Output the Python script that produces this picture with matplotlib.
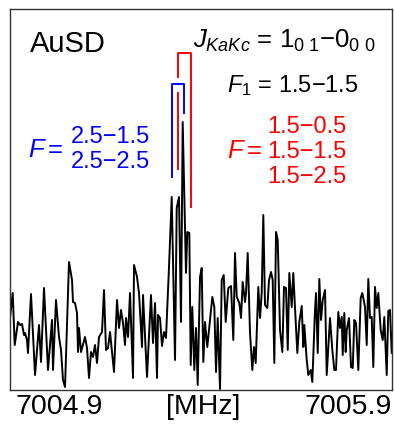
import matplotlib
matplotlib.use('Agg')
import matplotlib.pyplot as plt

plt.rcParams['font.family'] = ['Liberation Sans', 'DejaVu Sans']
plt.rcParams['mathtext.fontset'] = 'custom'
plt.rcParams['mathtext.rm'] = 'Liberation Sans'
plt.rcParams['mathtext.it'] = 'Liberation Sans:italic'

# spectrum (frequency in MHz, intensity in arb. units)
freq = [7004.7270, 7004.7398, 7004.7467, 7004.7581, 7004.7651, 7004.7720, 7004.7789, 7004.7824,
        7004.7893, 7004.7927, 7004.8031, 7004.8170, 7004.8308, 7004.8377, 7004.8481, 7004.8619,
        7004.8758, 7004.8792, 7004.8896, 7004.9000, 7004.9069, 7004.9138, 7004.9208, 7004.9346,
        7004.9450, 7004.9484, 7004.9554, 7004.9623, 7004.9657, 7004.9692, 7004.9761, 7004.9900,
        7004.9969, 7005.0038, 7005.0107, 7005.0176, 7005.0246, 7005.0315, 7005.0384, 7005.0488,
        7005.0557, 7005.0626, 7005.0696, 7005.0765, 7005.0903, 7005.1007, 7005.1076, 7005.1145,
        7005.1215, 7005.1284, 7005.1318, 7005.1388, 7005.1457, 7005.1561, 7005.1595, 7005.1699,
        7005.1768, 7005.1872, 7005.1907, 7005.2045, 7005.2183, 7005.2253, 7005.2322, 7005.2391,
        7005.2426, 7005.2495, 7005.2564, 7005.2633, 7005.2702, 7005.2806, 7005.2900, 7005.3014,
        7005.3073, 7005.3152, 7005.3221, 7005.3280, 7005.3394, 7005.3439, 7005.3509, 7005.3557,
        7005.3612, 7005.3682, 7005.3740, 7005.3799, 7005.3879, 7005.3938, 7005.3993, 7005.4052,
        7005.4131, 7005.4225, 7005.4305, 7005.4374, 7005.4433, 7005.4491, 7005.4571, 7005.4630,
        7005.4699, 7005.4768, 7005.4858, 7005.4952, 7005.5031, 7005.5090, 7005.5149, 7005.5239,
        7005.5298, 7005.5356, 7005.5436, 7005.5471, 7005.5529, 7005.5609, 7005.5689, 7005.5747,
        7005.5806, 7005.5896, 7005.5955, 7005.6014, 7005.6069, 7005.6128, 7005.6208, 7005.6266,
        7005.6336, 7005.6394, 7005.6450, 7005.6509, 7005.6568, 7005.6647, 7005.6727, 7005.6785,
        7005.6855, 7005.6914, 7005.6969, 7005.7052, 7005.7107, 7005.7166, 7005.7246, 7005.7315,
        7005.7398, 7005.7453, 7005.7488, 7005.7571, 7005.7626, 7005.7709, 7005.7765, 7005.7858,
        7005.7893, 7005.7952, 7005.8007, 7005.8066, 7005.8125, 7005.8204, 7005.8263, 7005.8377,
        7005.8457, 7005.8526, 7005.8585, 7005.8664, 7005.8723, 7005.8782, 7005.8817, 7005.8872,
        7005.8920, 7005.8955, 7005.9035, 7005.9104, 7005.9163, 7005.9218, 7005.9277, 7005.9356,
        7005.9439, 7005.9495, 7005.9588, 7005.9647, 7005.9702, 7005.9761, 7005.9820, 7005.9875,
        7005.9934, 7005.9993, 7006.0048, 7006.0131, 7006.0201, 7006.0256, 7006.0339, 7006.0394,
        7006.0453, 7006.0512, 7006.0557]
intensity = [63, 97, 45, 68, 65, 66, 55, 57,
             50, 37, 96, 15, 65, 28, 102, 20,
             70, 20, 90, 53, 40, 10, 3, 128,
             110, 88, 87, 77, 38, 62, 38, 53,
             42, 12, 38, 33, 45, 27, 53, 58,
             100, 40, 42, 58, 18, 90, 62, 80,
             67, 45, 72, 53, 97, 12, 125, 113,
             97, 43, 95, 13, 95, 47, 87, 12,
             75, 72, 44, 58, 52, 123, 193, 30,
             182, 193, 68, 268, 117, 158, 157, 25,
             83, 20, 62, 5, 113, 122, 28, 68,
             43, 70, 93, 83, 18, 72, 1, 110,
             115, 68, 102, 104, 50, 137, 93, 87,
             72, 108, 88, 97, 137, 57, 20, 43,
             27, 103, 72, 97, 175, 85, 82, 110,
             118, 110, 27, 158, 150, 60, 38, 103,
             102, 40, 117, 83, 117, 82, 37, 68,
             84, 43, 65, 30, 15, 20, 8, 80,
             97, 37, 111, 70, 90, 100, 15, 72,
             40, 20, 20, 78, 62, 73, 35, 77,
             38, 60, 72, 23, 22, 70, 67, 20,
             92, 97, 83, 45, 111, 72, 73, 23,
             103, 82, 97, 60, 50, 73, 15, 79,
             80, 37, 60]

# hyperfine component markers
blue_freqs = [7005.2910, 7005.3325]
red_freqs = [7005.3118, 7005.3568]
blue_labels = ['2.5\u22121.5', '2.5\u22122.5']
red_labels = ['1.5\u22120.5', '1.5\u22121.5', '1.5\u22122.5']

tick_pos = [7004.9, 7005.4, 7005.9]
tick_labels = ['7004.9', '[MHz]', '7005.9']

fig = plt.figure(figsize=(3.94, 4.24), dpi=100)
ax = fig.add_axes([9.5 / 394, 34 / 424, 382.5 / 394, 381 / 424])

ax.plot(freq, intensity, color='black', lw=1.4)

# blue bracket
ax.plot([blue_freqs[0], blue_freqs[0], blue_freqs[1], blue_freqs[1]], [213, 306, 306, 277],
        color='blue', lw=1.4)
# red bracket (left leg broken where it crosses the blue one)
ax.plot([red_freqs[0], red_freqs[0], red_freqs[1], red_freqs[1]], [313, 337, 337, 183],
        color='red', lw=1.4)
ax.plot([red_freqs[0], red_freqs[0]], [221, 297], color='red', lw=1.4)

ax.set_xlim(7004.7287, 7006.0522)
ax.set_ylim(0, 381)
ax.set_yticks([])
ax.set_xticks(tick_pos, tick_labels, fontsize=20.5)
ax.tick_params(axis='x', length=0, pad=3)
for s in ax.spines.values():
    s.set_color('#333333')
    s.set_linewidth(1.0)

ax.text(0.054, 0.887, 'AuSD', transform=ax.transAxes, fontsize=21)
ax.text(0.48, 0.898, r'$J_{KaKc}$ = 1$_{0\ 1}$' + '\u2212' + r'0$_{0\ 0}$',
        transform=ax.transAxes, fontsize=18.5)
ax.text(0.568, 0.782, r'$F_1$ = 1.5' + '\u2212' + '1.5', transform=ax.transAxes, fontsize=17)

for i, lab in enumerate(red_labels):
    ax.text(0.673, 0.675 - i * 0.066, lab, color='red', transform=ax.transAxes, fontsize=17)
ax.text(0.660, 0.609, r'$F\,$=', color='red', ha='right', transform=ax.transAxes, fontsize=18.5)

for i, lab in enumerate(blue_labels):
    ax.text(0.160, 0.648 - i * 0.066, lab, color='blue', transform=ax.transAxes, fontsize=17)
ax.text(0.140, 0.612, r'$F\,$=', color='blue', ha='right', transform=ax.transAxes, fontsize=18.5)

fig.savefig('out.png', dpi=100)
